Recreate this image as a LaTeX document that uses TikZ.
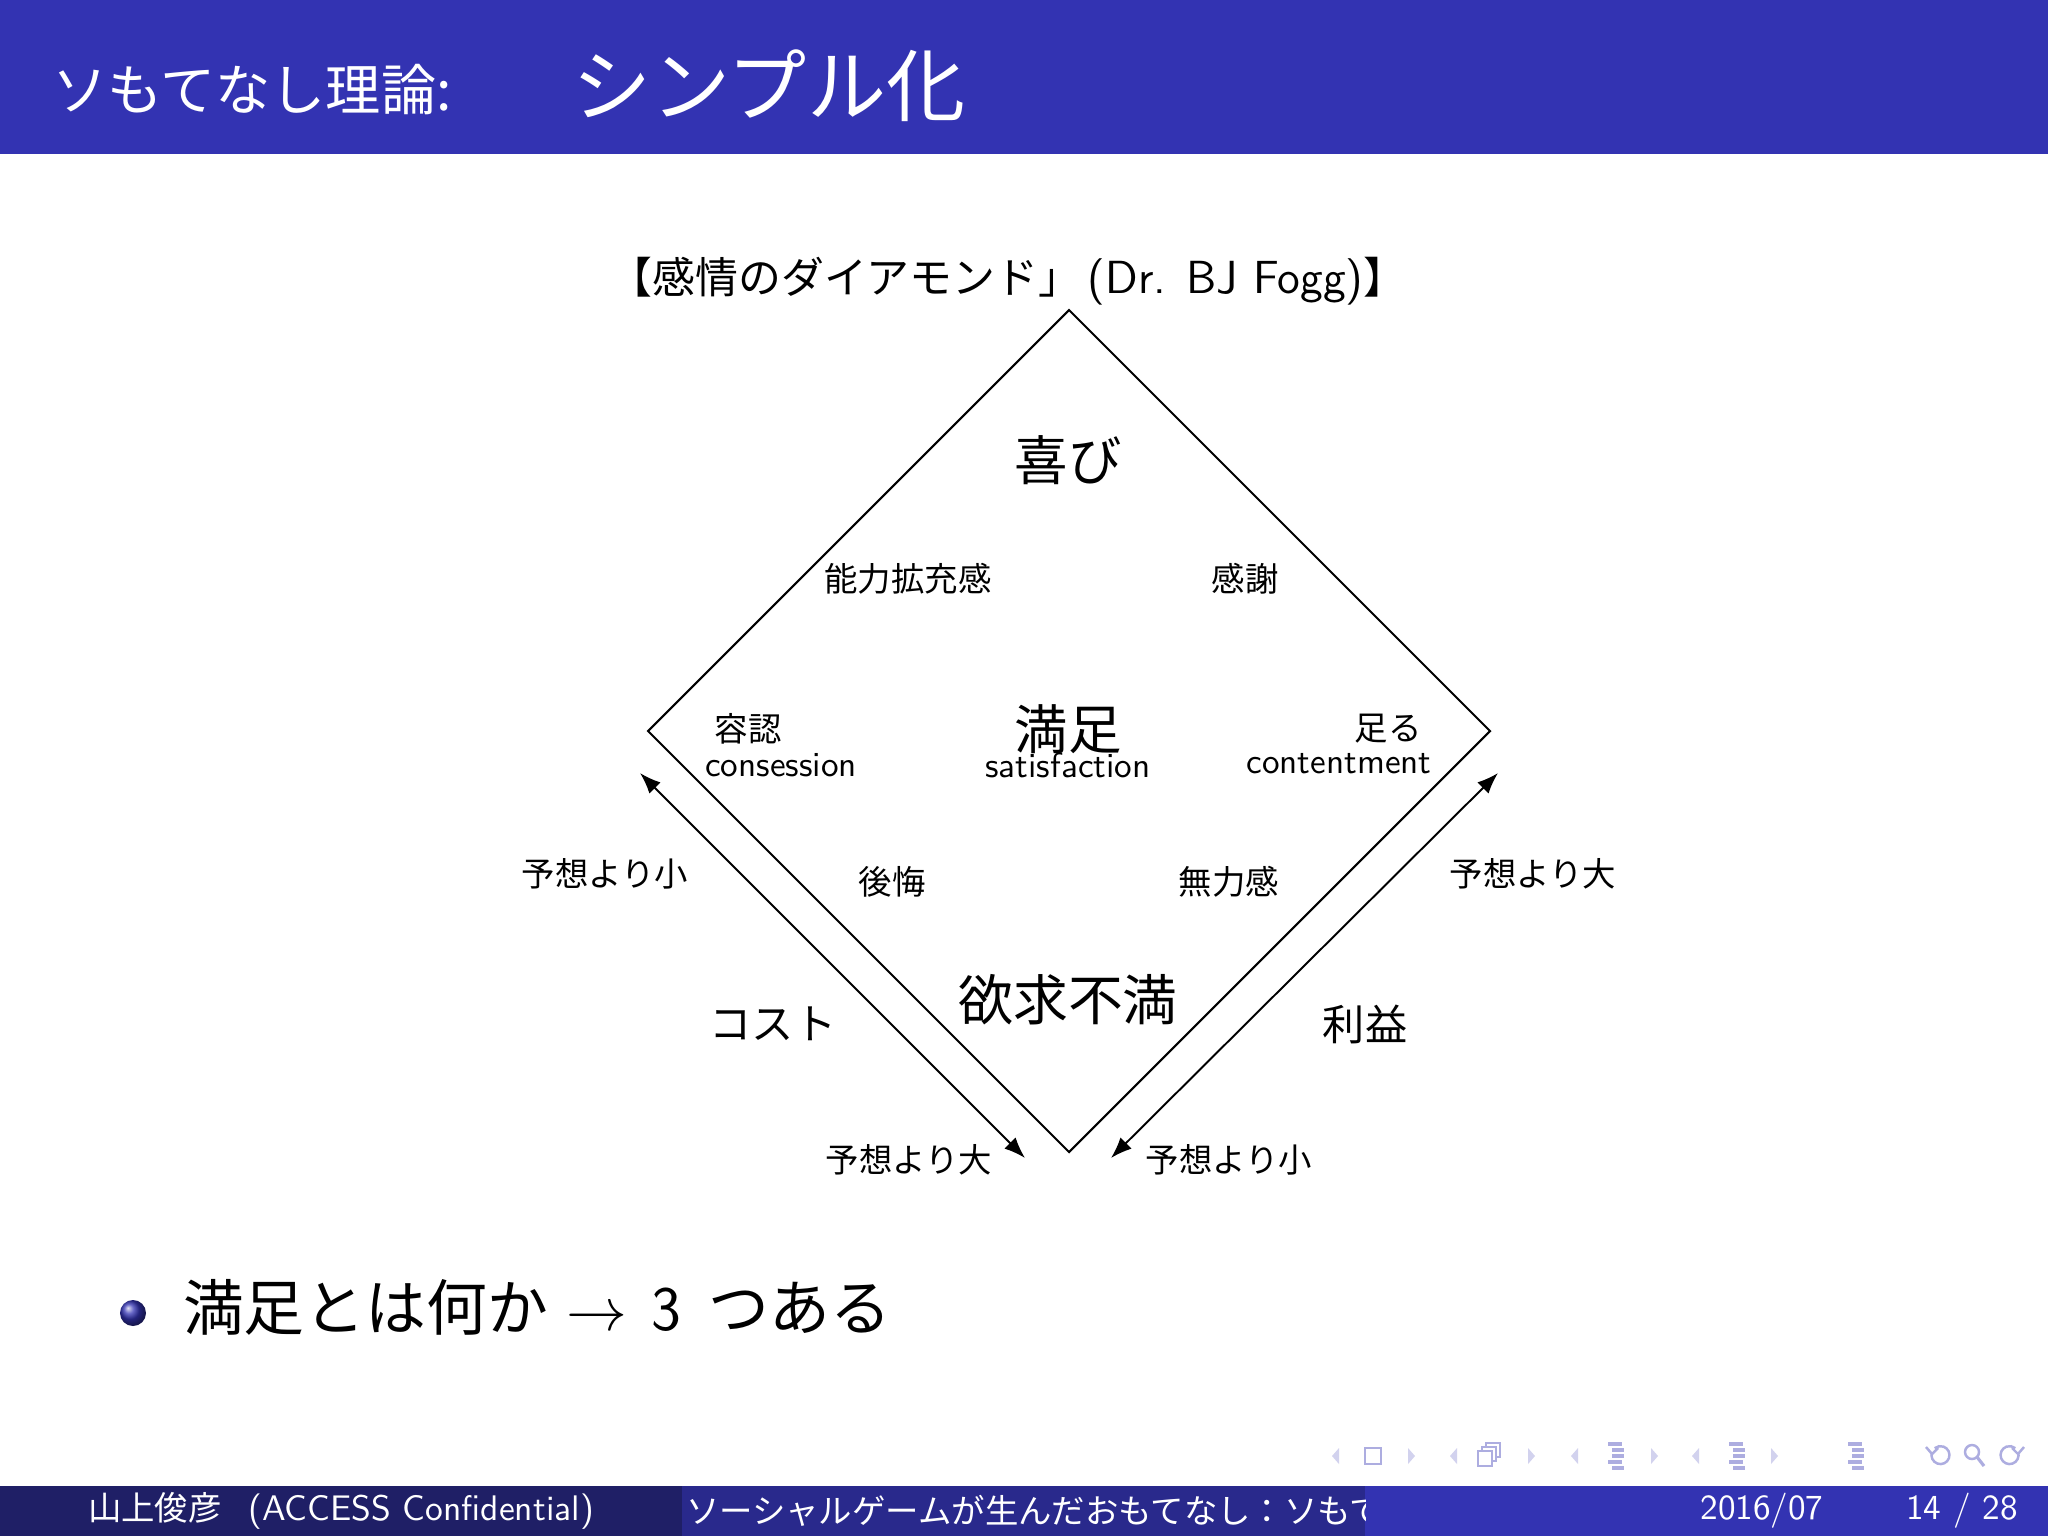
\documentclass[tikz,border=0pt]{standalone}
\usepackage{fontspec}
\newfontfamily\jp{Noto Sans CJK JP}
\usetikzlibrary{arrows.meta}
\definecolor{struct}{rgb}{0.2,0.2,0.7}
\definecolor{footL}{rgb}{0.12,0.12,0.40}
\definecolor{footM}{rgb}{0.16,0.16,0.55}
\colorlet{navc}{struct!40!white}
\colorlet{navl}{struct!22!white}
\newcommand\myfs[1]{\fontsize{#1}{#1}\selectfont}
\begin{document}
\begin{tikzpicture}[x=0.01cm,y=-0.01cm,
  every node/.style={inner sep=0pt, outer sep=0pt},
  small/.style={font=\jp\myfs{9.5}},
  lat/.style={font=\sffamily\myfs{10}},
  big/.style={font=\jp\myfs{15.2}},
  mid/.style={font=\jp\myfs{12}},
  edge/.style={line width=0.6pt},
  dbl/.style={line width=0.55pt, {Latex[length=6pt,width=4.5pt]}-{Latex[length=6pt,width=4.5pt]}},
  navtri/.style={fill=navl},
  navsym/.style={draw=navc, line width=0.6pt},
  navbar/.style={navc, line width=1.1pt}]
\useasboundingbox (0,0) rectangle (2048,1536);
\fill[white] (0,0) rectangle (2048,1536);
% header
\fill[struct] (0,0) rectangle (2048,154);
\node[anchor=west, text=white, font=\jp\myfs{15.7}] (t1) at (52,90) {ソもてなし理論:};
\node[anchor=west, text=white, font=\jp\myfs{22.5}] (t2) at (572,86) {シンプル化};
% diagram title
\node (dt) at (1008,281) {\jp\myfs{12.2}【感情のダイアモンド」\hspace{0.15em}{\sffamily\myfs{13.2}(Dr. BJ Fogg)}】};
% diamond
\coordinate (T) at (1069,310);
\coordinate (R) at (1490,731);
\coordinate (B) at (1069,1152);
\coordinate (L) at (648,731);
\draw[edge] (T) -- (R) -- (B) -- (L) -- cycle;
% arrows
\coordinate (la1) at (640,773);
\coordinate (la2) at (1025,1158);
\coordinate (ra1) at (1498,773);
\coordinate (ra2) at (1111,1158);
\draw[dbl] (la1) -- (la2);
\draw[dbl] (ra1) -- (ra2);
% labels
\node[big] (joy) at (1068,460) {喜び};
\node[small] (nk) at (908,579) {能力拡充感};
\node[small] (ks) at (1245,579) {感謝};
\node[small] (yn) at (748,729) {容認};
\node[lat] (cons) at (781,765) {consession};
\node[big] (mz) at (1068,729) {満足};
\node[lat] (sat) at (1068,765) {satisfaction};
\node[small] (tr) at (1388,729) {足る};
\node[lat] (cont) at (1339,764) {contentment};
\node[small] (kk) at (892,882) {後悔};
\node[small] (mr) at (1229,882) {無力感};
\node[big, font=\jp\myfs{15.6}] (yf) at (1068,1000) {欲求不満};
\node[small] (ls) at (605,874) {予想より小};
\node[small] (rl) at (1533,874) {予想より大};
\node[mid] (cost) at (773,1024) {コスト};
\node[mid] (rieki) at (1365,1024) {利益};
\node[small] (bl) at (909,1160) {予想より大};
\node[small] (br) at (1229,1160) {予想より小};
% bullet
\shade[ball color=struct] (133,1313) circle (13);
\node[anchor=west, font=\myfs{17.3}] (bul) at (183,1307) {\jp 満足とは何か\hspace{0.3em}$\rightarrow$\hspace{0.4em}{\sffamily\myfs{18}3}\hspace{0.45em}つある};
% footer
\fill[footL] (0,1486) rectangle (682,1536);
\fill[footM] (682,1486) rectangle (1365,1536);
\fill[struct] (1365,1486) rectangle (2048,1536);
\node[text=white, font=\myfs{9.5}] (fa) at (341,1511) {{\jp 山上俊彦}\hspace{0.8em}{\sffamily\myfs{10.1}(ACCESS Confidential)}};
\begin{scope}
\clip (682,1486) rectangle (1365,1536);
\node[anchor=west, text=white, font=\jp\myfs{9.5}] (fm) at (686,1511) {ソーシャルゲームが生んだおもてなし：ソもてなし理論};
\end{scope}
\node[text=white, font=\sffamily\myfs{10}] (fd) at (1762,1511) {2016/07};
\node[text=white, font=\sffamily\myfs{10}] (fp) at (1962,1511) {14 / 28};
% navigation symbols
\foreach \x in {1335,1453,1574,1695} {
  \fill[navtri] (\x+4,1448) -- (\x-3,1456) -- (\x+4,1464) -- cycle;
}
\foreach \x in {1412,1532,1655,1775} {
  \fill[navtri] (\x-4,1448) -- (\x+3,1456) -- (\x-4,1464) -- cycle;
}
\draw[navsym] (1365,1448) rectangle (1381,1464);
\draw[navsym] (1486,1443) rectangle (1500,1457);
\filldraw[navsym, fill=white] (1482,1447) rectangle (1496,1461);
\filldraw[navsym, fill=white] (1478,1451) rectangle (1492,1466);
\foreach \cx in {1615,1736,1855} {
  \draw[navbar] (\cx-7,1444) -- (\cx+7,1444);
  \draw[navbar] (\cx-3,1450) -- (\cx+9,1450);
  \draw[navbar] (\cx-3,1456) -- (\cx+9,1456);
  \draw[navbar] (\cx-7,1462) -- (\cx+7,1462);
  \draw[navbar] (\cx-3,1468) -- (\cx+9,1468);
}
\draw[navsym, line width=0.7pt] (1932,1452) arc[start angle=200, end angle=-130, radius=9];
\draw[navsym, line width=0.7pt] (1926,1447) -- (1932,1454) -- (1938,1448);
\draw[navsym, line width=0.7pt] (1972,1452) circle (7);
\draw[navsym, line width=0.9pt] (1977,1457) -- (1984,1466);
\draw[navsym, line width=0.7pt] (2018,1452) arc[start angle=-20, end angle=310, radius=9];
\draw[navsym, line width=0.7pt] (2024,1447) -- (2018,1454) -- (2012,1448);
\end{tikzpicture}
\end{document}
